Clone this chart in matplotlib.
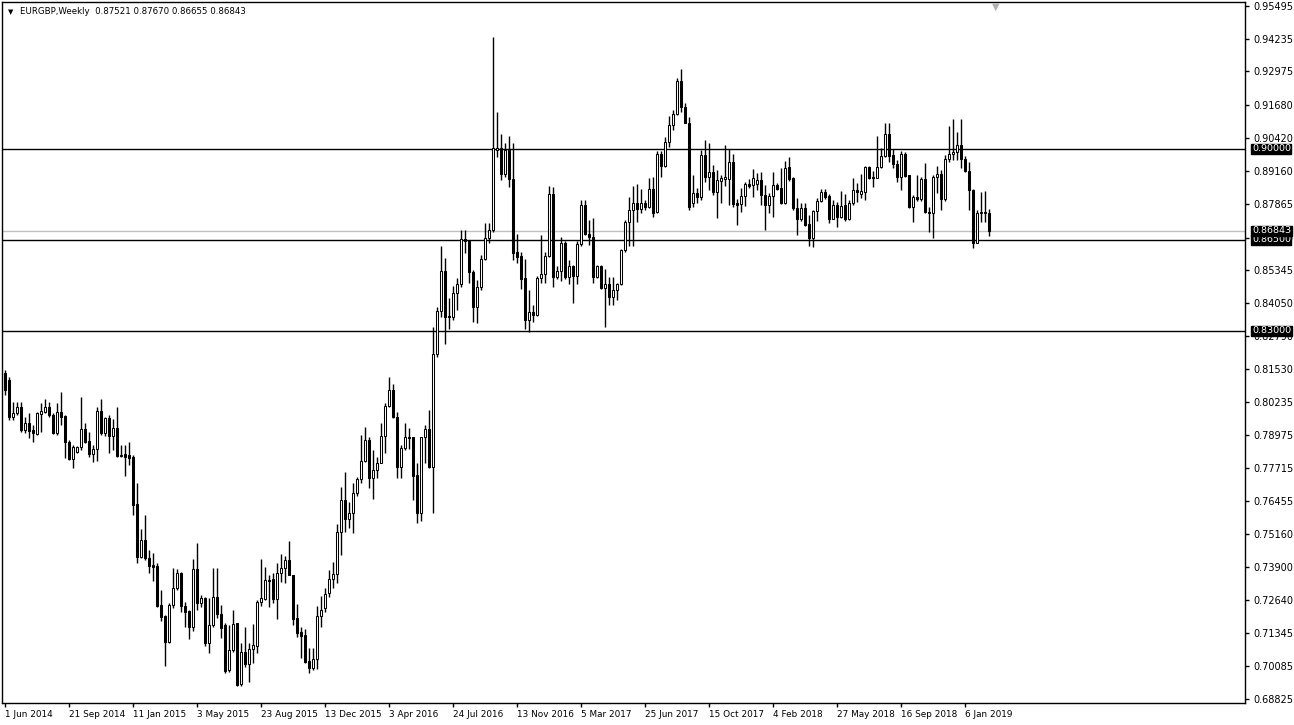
import matplotlib
matplotlib.use("Agg")
import matplotlib.pyplot as plt
import matplotlib.transforms as mtransforms
import numpy as np
import pandas as pd

symbol = "EURGBP,Weekly"
first_week = "2014-06-01"

opens = [
    .8137, .8110, .7968, .7983, .8006, .7918, .7944, .7918, .7902, .7979,
    .7987, .8006, .7975, .7906, .7987, .7971, .7871, .7806, .7833, .7852,
    .7921, .7875, .7825, .7844, .7991, .7906, .7964, .7894, .7925, .7821,
    .7825, .7821, .7814, .7633, .7429, .7494, .7425, .7398, .7394, .7244,
    .7201, .7101, .7244, .7309, .7367, .7240, .7221, .7159, .7382, .7252,
    .7271, .7097, .7167, .7275, .7209, .7167, .6993, .7070, .7174, .6939,
    .7063, .7017, .7074, .7086, .7256, .7267, .7340, .7344, .7267, .7367,
    .7386, .7417, .7359, .7194, .7140, .7128, .7028, .7001, .7036, .7201,
    .7232, .7290, .7344, .7363, .7525, .7648, .7575, .7598, .7675, .7729,
    .7798, .7879, .7733, .7764, .7790, .7894, .8010, .8071, .7968, .7775,
    .7848, .7890, .7890, .7744, .7598, .7890, .7921, .7775, .8210, .8376,
    .8530, .8357, .8353, .8445, .8480, .8653, .8649, .8526, .8391, .8468,
    .8576, .8657, .8688, .8996, .9003, .8903, .8996, .8884, .8603, .8587,
    .8503, .8341, .8372, .8360, .8503, .8518, .8587, .8826, .8507, .8530,
    .8637, .8507, .8549, .8511, .8634, .8784, .8672, .8661, .8507, .8549,
    .8465, .8480, .8430, .8457, .8480, .8610, .8718, .8765, .8791, .8768,
    .8791, .8776, .8845, .8757, .8980, .8934, .9026, .9092, .9134, .9261,
    .9161, .9099, .8791, .8830, .8815, .8976, .8892, .8911, .8834, .8876,
    .8884, .8884, .8949, .8791, .8788, .8819, .8865, .8861, .8865, .8880,
    .8822, .8784, .8819, .8861, .8849, .8791, .8930, .8888, .8772, .8730,
    .8772, .8711, .8657, .8761, .8799, .8834, .8819, .8730, .8784, .8738,
    .8784, .8730, .8791, .8842, .8826, .8834, .8930, .8892, .8888, .8930,
    .8972, .9057, .8976, .8942, .8892, .8980, .8899, .8776, .8815, .8807,
    .8884, .8757, .8753, .8892, .8903, .8807, .8961, .8980, .8988, .9015,
    .8961, .8915, .8842, .8637, .8753, .8757, .87521,
]

highs = [
    .8149, .8122, .8025, .8025, .8025, .7968, .7983, .7937, .7987, .8021,
    .8037, .8025, .7983, .8021, .8064, .7975, .7879, .7860, .7856, .8044,
    .7944, .7910, .7860, .8006, .8037, .7968, .7975, .7960, .8006, .7860,
    .7860, .7871, .7821, .7714, .7536, .7590, .7456, .7444, .7406, .7302,
    .7205, .7252, .7386, .7382, .7371, .7256, .7225, .7421, .7483, .7282,
    .7275, .7271, .7386, .7386, .7244, .7174, .7167, .7225, .7174, .7097,
    .7159, .7097, .7171, .7263, .7421, .7390, .7359, .7367, .7406, .7440,
    .7432, .7490, .7359, .7248, .7159, .7151, .7078, .7078, .7240, .7278,
    .7309, .7378, .7409, .7556, .7698, .7756, .7640, .7714, .7737, .7898,
    .7929, .7890, .7840, .7813, .7944, .8021, .8122, .8094, .7987, .7860,
    .7944, .7925, .7890, .7790, .7890, .7937, .7994, .8314, .8391, .8626,
    .8580, .8426, .8472, .8503, .8688, .8688, .8649, .8534, .8495, .8591,
    .8714, .8714, .9431, .9142, .9057, .9022, .9049, .9022, .8672, .8603,
    .8576, .8457, .8399, .8511, .8668, .8603, .8857, .8853, .8549, .8661,
    .8645, .8572, .8553, .8645, .8803, .8803, .8726, .8734, .8553, .8553,
    .8538, .8507, .8507, .8484, .8614, .8726, .8815, .8857, .8865, .8845,
    .8803, .8888, .8892, .8992, .8992, .9045, .9126, .9149, .9273, .9307,
    .9176, .9122, .8899, .8849, .8996, .9034, .9022, .8938, .8919, .8899,
    .9015, .8999, .8980, .8807, .8849, .8872, .8884, .8922, .8907, .8911,
    .8861, .8830, .8911, .8868, .8926, .8953, .8969, .8892, .8811, .8791,
    .8791, .8745, .8765, .8811, .8845, .8845, .8826, .8803, .8795, .8838,
    .8826, .8803, .8888, .8868, .8903, .8934, .8934, .8915, .9049, .9003,
    .9099, .9099, .8999, .8957, .8992, .8988, .8899, .8822, .8899, .8892,
    .8945, .8776, .8899, .8934, .8919, .8976, .9088, .9115, .9065, .9115,
    .8972, .8949, .8845, .8765, .8834, .8838, .87670,
]

lows = [
    .8052, .7956, .7956, .7975, .7910, .7906, .7887, .7871, .7898, .7910,
    .7983, .7968, .7902, .7898, .7937, .7810, .7802, .7771, .7829, .7840,
    .7867, .7814, .7794, .7798, .7898, .7894, .7829, .7840, .7814, .7814,
    .7740, .7783, .7590, .7406, .7425, .7417, .7367, .7336, .7236, .7182,
    .7009, .7097, .7232, .7302, .7217, .7159, .7113, .7144, .7225, .7236,
    .7086, .7059, .7159, .7194, .7117, .6982, .6986, .7063, .6932, .6932,
    .7005, .6947, .7020, .7059, .7240, .7263, .7236, .7252, .7190, .7332,
    .7328, .7359, .7167, .7120, .7040, .7020, .6982, .6993, .6997, .7159,
    .7217, .7275, .7309, .7328, .7436, .7525, .7540, .7521, .7663, .7713,
    .7794, .7694, .7652, .7733, .7790, .7829, .8006, .7964, .7733, .7733,
    .7840, .7844, .7648, .7559, .7567, .7790, .7771, .7598, .8199, .8353,
    .8249, .8306, .8341, .8380, .8468, .8599, .8484, .8333, .8330, .8457,
    .8572, .8637, .8680, .8969, .8880, .8892, .8853, .8572, .8561, .8460,
    .8306, .8295, .8333, .8357, .8484, .8484, .8584, .8468, .8499, .8490,
    .8499, .8480, .8407, .8480, .8626, .8668, .8630, .8484, .8503, .8461,
    .8314, .8399, .8399, .8418, .8476, .8603, .8626, .8626, .8718, .8753,
    .8765, .8772, .8738, .8753, .8892, .8930, .9007, .9073, .9130, .9142,
    .9099, .8765, .8776, .8791, .8803, .8872, .8842, .8822, .8734, .8791,
    .8857, .8784, .8776, .8707, .8757, .8780, .8849, .8815, .8842, .8784,
    .8688, .8753, .8738, .8842, .8788, .8788, .8876, .8765, .8668, .8722,
    .8703, .8626, .8622, .8722, .8795, .8807, .8714, .8730, .8699, .8734,
    .8722, .8726, .8784, .8795, .8811, .8803, .8884, .8853, .8888, .8926,
    .8969, .8949, .8926, .8872, .8842, .8892, .8772, .8718, .8799, .8799,
    .8753, .8680, .8657, .8830, .8765, .8799, .8949, .8957, .8957, .8926,
    .8911, .8765, .8618, .8637, .8718, .8718, .86655,
]

closes = [
    .8071, .7968, .7983, .8006, .7918, .7944, .7914, .7906, .7983, .7991,
    .8006, .7975, .7906, .7987, .7968, .7871, .7806, .7852, .7852, .7921,
    .7871, .7825, .7844, .7991, .7906, .7964, .7894, .7925, .7817, .7817,
    .7814, .7810, .7629, .7429, .7494, .7425, .7394, .7390, .7240, .7198,
    .7101, .7244, .7309, .7367, .7240, .7217, .7159, .7382, .7252, .7271,
    .7097, .7167, .7275, .7209, .7155, .6990, .7070, .7171, .6936, .7063,
    .7017, .7074, .7090, .7256, .7271, .7340, .7336, .7267, .7367, .7386,
    .7417, .7359, .7190, .7136, .7124, .7024, .7001, .7036, .7201, .7225,
    .7286, .7344, .7363, .7525, .7648, .7575, .7598, .7675, .7729, .7798,
    .7879, .7733, .7764, .7790, .7894, .8010, .8071, .7968, .7775, .7848,
    .7890, .7887, .7740, .7598, .7890, .7921, .7775, .8210, .8376, .8530,
    .8353, .8353, .8445, .8480, .8653, .8645, .8526, .8391, .8468, .8576,
    .8657, .8688, .9003, .9003, .8903, .8996, .8884, .8599, .8584, .8499,
    .8341, .8372, .8360, .8503, .8518, .8587, .8826, .8507, .8530, .8637,
    .8507, .8549, .8511, .8634, .8784, .8672, .8661, .8507, .8549, .8465,
    .8480, .8430, .8457, .8480, .8610, .8718, .8765, .8791, .8768, .8791,
    .8776, .8845, .8753, .8980, .8934, .9026, .9092, .9134, .9261, .9161,
    .9099, .8776, .8830, .8815, .8976, .8892, .8911, .8834, .8880, .8888,
    .8892, .8949, .8788, .8784, .8819, .8865, .8857, .8888, .8880, .8822,
    .8784, .8819, .8861, .8845, .8791, .8926, .8884, .8772, .8730, .8772,
    .8707, .8657, .8761, .8799, .8834, .8815, .8730, .8784, .8738, .8780,
    .8730, .8791, .8842, .8834, .8838, .8930, .8888, .8888, .8930, .8972,
    .9057, .8972, .8942, .8892, .8980, .8895, .8776, .8815, .8807, .8884,
    .8757, .8753, .8892, .8903, .8807, .8961, .8980, .8988, .9015, .8961,
    .8915, .8842, .8637, .8753, .8757, .8752, .86843,
]

levels = [0.90000, 0.86500, 0.83000]
price_ticks = [0.95495, 0.94235, 0.92975, 0.91680, 0.90420, 0.89160, 0.87865,
               0.86570, 0.85345, 0.84050, 0.82790, 0.81530, 0.80235, 0.78975,
               0.77715, 0.76455, 0.75160, 0.73900, 0.72640, 0.71345, 0.70085,
               0.68825]

o = np.array(opens)
h = np.array(highs)
l = np.array(lows)
c = np.array(closes)
n = len(c)
x = np.arange(n)
weeks = pd.date_range(first_week, periods=n, freq="7D")

W, H = 1294, 725
fig = plt.figure(figsize=(W / 100, H / 100), dpi=100)
ax = fig.add_axes([2 / W, 22 / H, 1243 / W, 701 / H])

# wicks
ax.vlines(x, l, h, color="black", lw=1, zorder=2)

up = c >= o
ax.bar(x[up], np.maximum(c[up] - o[up], 1e-5), bottom=o[up], width=0.5,
       facecolor="white", edgecolor="black", lw=0.75, zorder=3)
ax.bar(x[~up], np.maximum(o[~up] - c[~up], 1e-5), bottom=c[~up], width=0.5,
       facecolor="black", edgecolor="black", lw=0.75, zorder=3)

# levels and bid line
for lvl in levels:
    ax.axhline(lvl, color="black", lw=1, zorder=1)
ax.axhline(c[-1], color="#c0c0c0", lw=1, zorder=1)

ax.set_xlim(-0.75, 310)
ax.set_ylim(0.68667, 0.95649)

# price scale
ax.yaxis.tick_right()
ax.set_yticks(price_ticks)
ax.set_yticklabels([f"{v:.5f}" for v in price_ticks])
ax.tick_params(axis="y", length=3, width=1, labelsize=7, pad=3, color="black")

# time scale
tick_idx = list(range(0, n, 16))
ax.set_xticks(tick_idx)
ax.set_xticklabels([f"{weeks[i].day} {weeks[i]:%b %Y}" for i in tick_idx],
                   ha="left")
ax.tick_params(axis="x", length=3, width=1, labelsize=6.4, pad=2, color="black")

for s in ax.spines.values():
    s.set_color("black")
    s.set_linewidth(1)

trans = mtransforms.blended_transform_factory(ax.transAxes, ax.transData)
for lvl in levels + [c[-1]]:
    ax.annotate(f"{lvl:.5f}", xy=(1, lvl), xycoords=trans, xytext=(5, 0),
                textcoords="offset points", ha="left", va="center",
                color="white", fontsize=6.8, zorder=6, annotation_clip=False,
                bbox=dict(boxstyle="square,pad=0.05", facecolor="black",
                          edgecolor="black"))

# header
fig.text(8 / W, 1 - 12 / H, "▼", fontsize=5, va="center", ha="left")
fig.text(20 / W, 1 - 12 / H, f"{symbol}  {o[-1]:.5f} {h[-1]:.5f} {l[-1]:.5f} {c[-1]:.5f}",
         fontsize=6.2, va="center", ha="left")
fig.text(996 / W, 1 - 7 / H, "▼", fontsize=7, color="#b0b0b0", va="center", ha="center")

fig.savefig("out.png", dpi=100)
